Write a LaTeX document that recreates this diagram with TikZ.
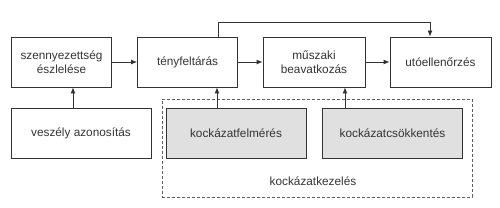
\documentclass[tikz,border=0pt]{standalone}
\usepackage{fontspec}
\setmainfont{Liberation Sans}
\usetikzlibrary{arrows.meta}
\definecolor{ln}{HTML}{333333}
\definecolor{gr}{HTML}{E0E0E0}
\begin{document}
\begin{tikzpicture}[x=1pt,y=-1pt,
  box/.style={draw=ln,line width=0.8pt,minimum width=#1,minimum height=50pt,inner sep=0pt,align=center,text=ln,font=\fontsize{11.8}{13.5}\selectfont},
  box/.default=100pt,
  gbox/.style={box=140pt,fill=gr},
  arr/.style={draw=ln,line width=0.8pt,-{Latex[length=6pt,width=5pt]}}]
\useasboundingbox (0,0) rectangle (500,208);
\node[box] (a) at (61.5,62) {szennyezettség\\észlelése};
\node[box] (b) at (187.5,62) {tényfeltárás};
\node[box=102pt] (c) at (314,62) {műszaki\\beavatkozás};
\node[box=101pt] (d) at (440.5,62) {utóellenőrzés};
\node[box=140pt] (v) at (81,133.5) {veszély azonosítás};
\node[draw=ln!80,dash pattern=on 3pt off 2pt,line width=0.7pt,minimum width=310pt,minimum height=98pt,inner sep=0pt] (k) at (317,148) {};
\node[gbox] (f) at (236,133.5) {kockázatfelmérés};
\node[gbox=139pt] (g) at (392.5,133.5) {kockázatcsökkentés};
\node[text=ln,font=\fontsize{11.8}{13.5}\selectfont] (kl) at (313,181) {kockázatkezelés};
\coordinate (t1) at (218,22);
\coordinate (t2) at (430,22);
\draw[arr] (a) -- (b);
\draw[arr] (b) -- (c);
\draw[arr] (c) -- (d);
\draw[arr] (b.north -| t1) -- (t1) -- (t2) -- (d.north -| t2);
\draw[arr] (v.north -| 73,0) -- (a.south -| 73,0);
\draw[arr] (f.north -| 217,0) -- (b.south -| 217,0);
\draw[arr] (g.north -| 345,0) -- (c.south -| 345,0);
\end{tikzpicture}
\end{document}
